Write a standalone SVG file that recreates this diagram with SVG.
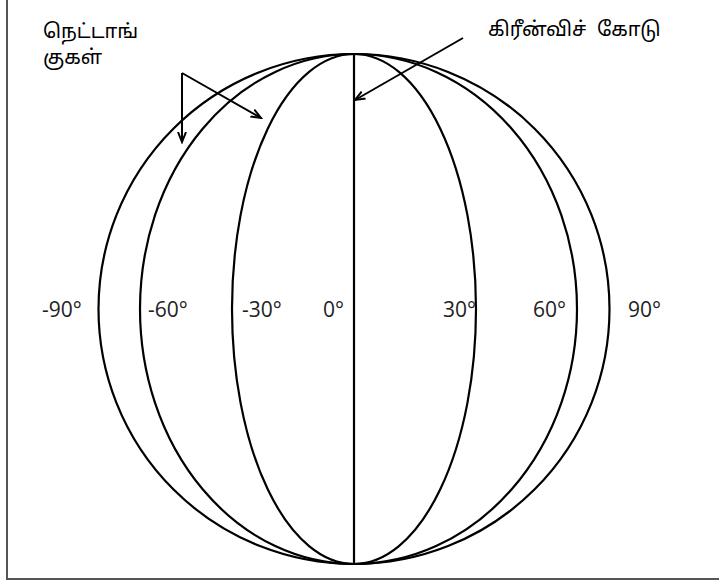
<svg xmlns="http://www.w3.org/2000/svg" width="719" height="584" viewBox="0 0 719 584">
<style>
.m{fill:none;stroke:#000;stroke-width:2.2}
.a{fill:none;stroke:#000;stroke-width:2}
.deg{font-family:"Open Sans","Liberation Sans",sans-serif;font-size:21px;fill:#222}
.ta{font-family:"Noto Sans Tamil","Latha","Lohit Tamil","Noto Sans",sans-serif;font-size:20px;fill:#000;white-space:pre}
</style>
<defs>
<marker id="ah" markerWidth="12" markerHeight="10" refX="10" refY="5" orient="auto" markerUnits="userSpaceOnUse">
<path d="M0,1 L10,5 L0,9" fill="none" stroke="#000" stroke-width="2"/>
</marker>
</defs>
<rect width="719" height="584" fill="#fff"/>
<path d="M7,0 V579 H719" fill="none" stroke="#555" stroke-width="2"/>
<g id="globe">
<ellipse class="m" cx="354" cy="309" rx="255.5" ry="255"/>
<path class="m" d="M354,54 A214,255 0 0 0 354,564"/>
<path class="m" d="M354,54 A122,255 0 0 0 354,564"/>
<path class="m" d="M354,54 V564"/>
<path class="m" d="M354,54 A122,255 0 0 1 354,564"/>
<path class="m" d="M354,54 A223,255 0 0 1 354,564"/>
</g>
<g id="degree-labels">
<text class="deg" x="42" y="316.5">-90°</text>
<text class="deg" x="148" y="316.5">-60°</text>
<text class="deg" x="242" y="316.5">-30°</text>
<text class="deg" x="323" y="316.5">0°</text>
<text class="deg" x="443" y="316.5">30°</text>
<text class="deg" x="533" y="316.5">60°</text>
<text class="deg" x="628" y="316.5">90°</text>
</g>
<g id="label-longitudes">
<text class="ta" x="43" y="38">நெட்டாங்</text>
<text class="ta" x="43" y="64">குகள்</text>
</g>
<g id="label-greenwich">
<text class="ta" x="488" y="36">கிரீன்விச்  கோடு</text>
</g>
<g id="connectors">
<path class="a" d="M182,73 V142" marker-end="url(#ah)"/>
<path class="a" d="M182,73 L261,118" marker-end="url(#ah)"/>
<path class="a" d="M463,38 L355,100" marker-end="url(#ah)"/>
</g>
</svg>
